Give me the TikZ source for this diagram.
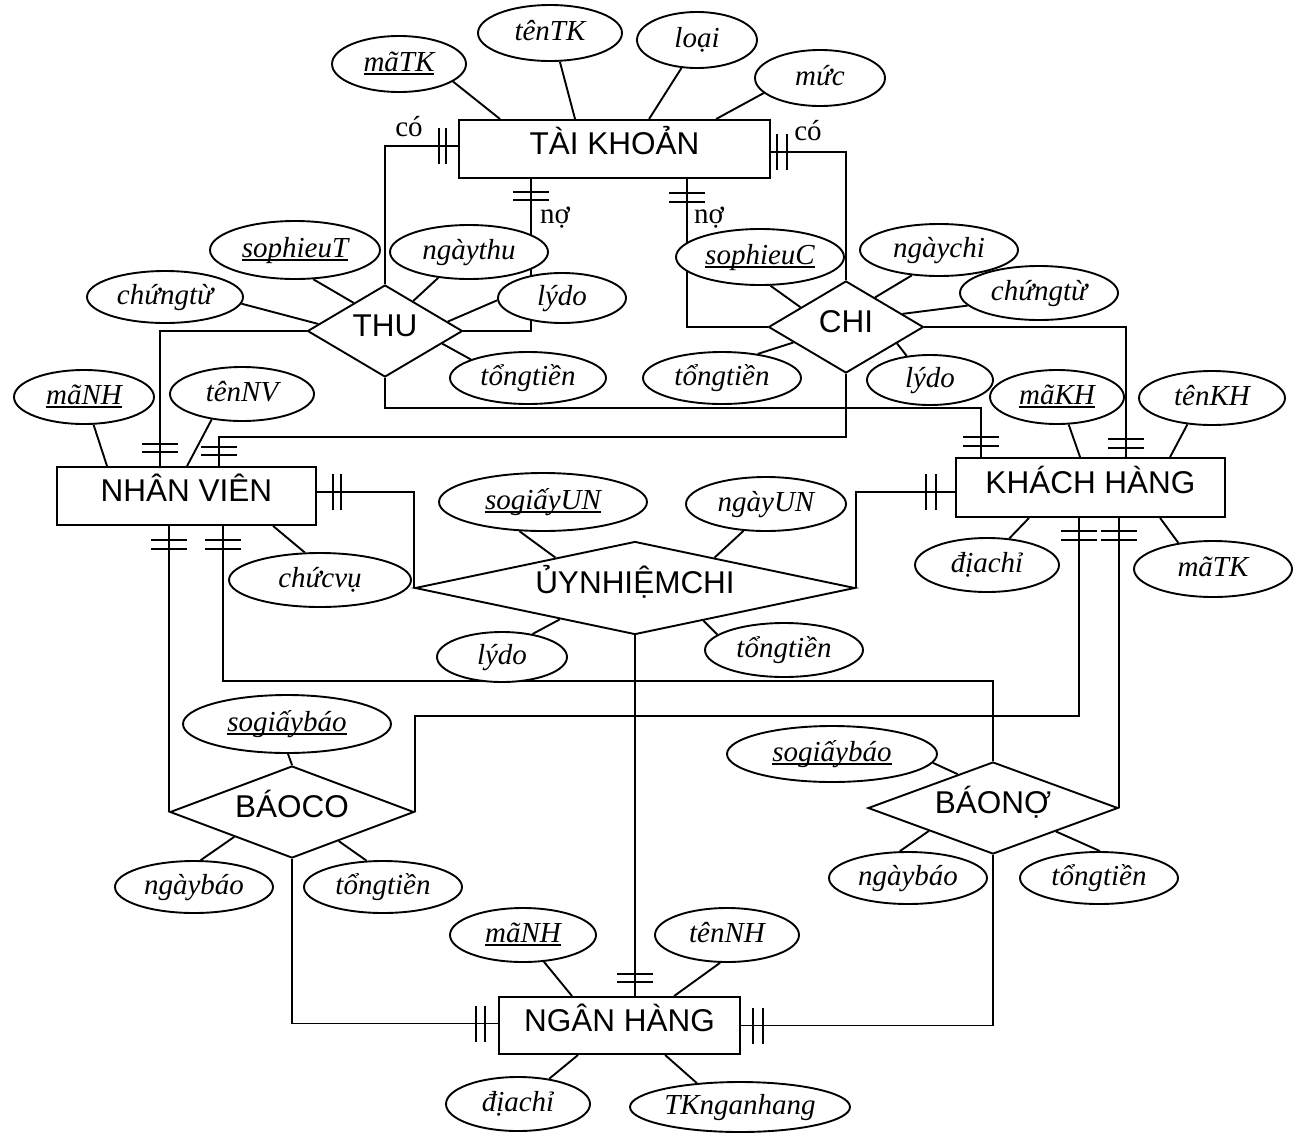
\documentclass[tikz,border=0pt]{standalone}
\usepackage{fontspec}
\setmainfont{Liberation Serif}
\newfontfamily\arialf{Liberation Sans}
\usetikzlibrary{shapes.geometric,calc}

% underlined key attribute
\newcommand{\keyul}[1]{\setbox0\hbox{#1}\rlap{\rule[-4pt]{\wd0}{1.6pt}}\box0}
% two cardinality bars across a horizontal connector (vertical bars)
\newcommand{\barsV}[3]{\draw ($(#1)+(#2,-18)$) -- ++(0,36) ($(#1)+(#3,-18)$) -- ++(0,36);}
% two cardinality bars across a vertical connector (horizontal bars)
\newcommand{\barsH}[3]{\draw ($(#1)+(-18,#2)$) -- ++(36,0) ($(#1)+(-18,#3)$) -- ++(36,0);}

\begin{document}
\begin{tikzpicture}[x=1pt,y=-1pt,line width=1.9pt,
  ent/.style={draw, rectangle, inner sep=0pt, fill=white,
    font=\arialf\fontsize{31.5}{36}\selectfont, text height=22.5pt, text depth=11pt},
  rel/.style={draw, diamond, inner sep=0pt, fill=white,
    font=\arialf\fontsize{31.5}{36}\selectfont, text height=22.5pt, text depth=11pt},
  attr/.style={draw, ellipse, inner sep=0pt, fill=white,
    font=\itshape\fontsize{29}{33}\selectfont, text height=20pt, text depth=6pt},
  card/.style={font=\fontsize{29}{33}\selectfont, inner sep=0pt},
]
\useasboundingbox (0,0) rectangle (1293,1133);
\fill[white] (0,0) rectangle (1293,1133);

% entities
\node[ent, minimum width=311pt, minimum height=58pt] (TK) at (614.5,149) {TÀI KHOẢN};
\node[ent, minimum width=259pt, minimum height=58pt] (NV) at (186.5,496) {NHÂN VIÊN};
\node[ent, minimum width=269pt, minimum height=59pt] (KH) at (1090.5,487.5) {KHÁCH HÀNG};
\node[ent, minimum width=241pt, minimum height=57pt] (NH) at (619.5,1025.5) {NGÂN HÀNG};

% relationships
\node[rel, aspect=1.68, minimum width=155pt, minimum height=92pt] (THU) at (385,331) {THU};
\node[rel, aspect=1.68, minimum width=155pt, minimum height=92pt] (CHI) at (846,327) {CHI};
\node[rel, aspect=4.73, minimum width=440pt, minimum height=93pt] (UN) at (635,588) {ỦYNHIỆMCHI};
\node[rel, aspect=2.65, minimum width=244pt, minimum height=92pt] (BC) at (292,812) {BÁOCO};
\node[rel, aspect=2.7, minimum width=250pt, minimum height=92pt] (BN) at (993,808) {BÁONỢ};

% connector ends on the entities
\coordinate (TKl) at ($(TK.west)+(0,-3)$);
\coordinate (TKr) at ($(TK.east)+(0,3)$);
\coordinate (TKb1) at ($(TK.south west)+(73,0)$);
\coordinate (TKb2) at ($(TK.south west)+(229,0)$);
\coordinate (NVt1) at ($(NV.north west)+(104,0)$);
\coordinate (NVt2) at ($(NV.north west)+(163,0)$);
\coordinate (NVr) at ($(NV.east)+(0,-4)$);
\coordinate (NVb1) at (BC.west |- NV.south);
\coordinate (NVb2) at ($(NV.south west)+(167,0)$);
\coordinate (KHt1) at ($(KH.north west)+(26,0)$);
\coordinate (KHt2) at ($(KH.north west)+(171,0)$);
\coordinate (KHl) at ($(KH.west)+(0,4.5)$);
\coordinate (KHb1) at ($(KH.south west)+(124,0)$);
\coordinate (KHb2) at (BN.east |- KH.south);
\coordinate (NHt) at (UN.south |- NH.north);
\coordinate (NHl) at ($(NH.west)+(0,-2)$);
\coordinate (NHr) at (NH.east);

% connectors
\draw (THU.north) |- (TKl);
\draw (CHI.north) |- (TKr);
\draw (THU.east) -| (TKb1);
\draw (CHI.west) -| (TKb2);
\draw (THU.west) -| (NVt1);
\draw (CHI.south) |- ($(NVt2)+(0,-29)$) -- (NVt2);
\draw (THU.south) |- ($(KHt1)+(0,-49)$) -- (KHt1);
\draw (CHI.east) -| (KHt2);
\draw (NVr) -| (UN.west);
\draw (UN.east) |- (KHl);
\draw (UN.south) -- (NHt);
\draw (NVb2) |- ($(BN.north)+(0,-80)$) -- (BN.north);
\draw (NVb1) -- (BC.west);
\draw (BC.east) |- ($(KHb1)+(0,198)$) -- (KHb1);
\draw (KHb2) -- (BN.east);
\draw (BC.south) |- (NHl);
\draw (BN.south) |- (NHr);

% cardinality bars
\barsV{TKl}{-19}{-12}
\barsV{TKr}{6}{16}
\barsH{TKb1}{13}{21}
\barsH{TKb2}{14}{23}
\barsH{NVt1}{-22}{-14}
\barsH{NVt2}{-19}{-11}
\barsH{KHt1}{-20}{-11}
\barsH{KHt2}{-18}{-9}
\barsV{NVr}{16}{24}
\barsV{KHl}{-29}{-19}
\barsH{NVb1}{14}{23}
\barsH{NVb2}{14}{23}
\barsH{KHb1}{13}{22}
\barsH{KHb2}{13}{22}
\barsH{NHt}{-22}{-14}
\barsV{NHl}{-22}{-13}
\barsV{NHr}{12}{22}

% role labels
\node[card] (coL) at (409,127) {có};
\node[card] (coR) at (808,131) {có};
\node[card] (noL) at (555,218) {nợ};
\node[card] (noR) at (709,218) {nợ};

% attributes
\node[attr, minimum width=134pt, minimum height=56pt] (mTK) at (399,64) {\keyul{mãTK}};
\node[attr, minimum width=144pt, minimum height=56pt] (tTK) at (550,33) {tênTK};
\node[attr, minimum width=120pt, minimum height=56pt] (loai) at (697,40) {loại};
\node[attr, minimum width=130pt, minimum height=56pt] (muc) at (820,78) {mức};
\node[attr, minimum width=170pt, minimum height=58pt] (spT) at (295,250) {\keyul{sophieuT}};
\node[attr, minimum width=158pt, minimum height=54pt] (ngT) at (469,252) {ngàythu};
\node[attr, minimum width=156pt, minimum height=52pt] (ctL) at (165,297) {chứngtừ};
\node[attr, minimum width=128pt, minimum height=50pt] (ldT) at (562,298) {lýdo};
\node[attr, minimum width=156pt, minimum height=52pt] (ttT) at (528,378) {tổngtiền};
\node[attr, minimum width=168pt, minimum height=56pt] (spC) at (760,257) {\keyul{sophieuC}};
\node[attr, minimum width=158pt, minimum height=52pt] (ngC) at (939,250) {ngàychi};
\node[attr, minimum width=158pt, minimum height=54pt] (ctR) at (1039,293) {chứngtừ};
\node[attr, minimum width=158pt, minimum height=52pt] (ttC) at (722,378) {tổngtiền};
\node[attr, minimum width=126pt, minimum height=50pt] (ldC) at (930,380) {lýdo};
\node[attr, minimum width=140pt, minimum height=54pt] (mNH1) at (84,397) {\keyul{mãNH}};
\node[attr, minimum width=144pt, minimum height=54pt] (tNV) at (242,394) {tênNV};
\node[attr, minimum width=182pt, minimum height=54pt] (cv) at (320,580) {chứcvụ};
\node[attr, minimum width=134pt, minimum height=54pt] (mKH) at (1057,397) {\keyul{mãKH}};
\node[attr, minimum width=146pt, minimum height=54pt] (tKH) at (1212,398) {tênKH};
\node[attr, minimum width=144pt, minimum height=54pt] (dcK) at (987,565) {địachỉ};
\node[attr, minimum width=158pt, minimum height=56pt] (mTK2) at (1213,569) {mãTK};
\node[attr, minimum width=208pt, minimum height=58pt] (sgUN) at (543,502) {\keyul{sogiấyUN}};
\node[attr, minimum width=160pt, minimum height=54pt] (ngUN) at (766,504) {ngàyUN};
\node[attr, minimum width=130pt, minimum height=50pt] (ldUN) at (502,657) {lýdo};
\node[attr, minimum width=158pt, minimum height=54pt] (ttUN) at (784,650) {tổngtiền};
\node[attr, minimum width=208pt, minimum height=58pt] (sgb1) at (287,724) {\keyul{sogiấybáo}};
\node[attr, minimum width=158pt, minimum height=52pt] (nb1) at (194,887) {ngàybáo};
\node[attr, minimum width=158pt, minimum height=52pt] (tt1) at (383,887) {tổngtiền};
\node[attr, minimum width=210pt, minimum height=56pt] (sgb2) at (832,754) {\keyul{sogiấybáo}};
\node[attr, minimum width=158pt, minimum height=52pt] (nb2) at (908,878) {ngàybáo};
\node[attr, minimum width=158pt, minimum height=52pt] (tt2) at (1099,878) {tổngtiền};
\node[attr, minimum width=146pt, minimum height=54pt] (mNH2) at (523,935) {\keyul{mãNH}};
\node[attr, minimum width=144pt, minimum height=54pt] (tNH) at (727,935) {tênNH};
\node[attr, minimum width=144pt, minimum height=54pt] (dcN) at (518,1104) {địachỉ};
\node[attr, minimum width=220pt, minimum height=50pt] (TKn) at (740,1107) {TKnganhang};

% attribute links
\draw (mTK.-18) -- ($(TK.north west)+(42,0)$);
\draw (tTK.-71) -- ($(TK.north west)+(117,0)$);
\draw (loai.-119) -- ($(TK.north west)+(191,0)$);
\draw (muc.-165) -- ($(TK.north west)+(258,0)$);
\draw (spT.-58) -- ($(THU.north)!0.4!(THU.west)$);
\draw (ctL.-5) -- ($(THU.north)!0.85!(THU.west)$);
\draw (ngT.-140) -- ($(THU.north)!0.36!(THU.east)$);
\draw (ldT.-178) -- ($(THU.north)!0.8!(THU.east)$);
\draw (ttT.162) -- ($(THU.east)!0.27!(THU.south)$);
\draw (spC.-70) -- ($(CHI.north)!0.58!(CHI.west)$);
\draw (ngC.-137) -- ($(CHI.north)!0.37!(CHI.east)$);
\draw (ctR.-170) -- ($(CHI.north)!0.72!(CHI.east)$);
\draw (ttC.34) -- ($(CHI.west)!0.33!(CHI.south)$);
\draw (ldC.134) -- ($(CHI.east)!0.35!(CHI.south)$);
\draw (mNH1.-71) -- ($(NV.north west)+(51,0)$);
\draw (tNV.-140) -- ($(NV.north west)+(131,0)$);
\draw (cv.119) -- ($(NV.south west)+(217,0)$);
\draw (mKH.-67) -- ($(KH.north west)+(125,0)$);
\draw (tKH.-133) -- ($(KH.north west)+(215,0)$);
\draw (dcK.50) -- ($(KH.south west)+(74,0)$);
\draw (mTK2.143) -- ($(KH.south west)+(205,0)$);
\draw (sgUN.-129) -- ($(UN.north)!0.36!(UN.west)$);
\draw (ngUN.-130) -- ($(UN.north)!0.36!(UN.east)$);
\draw (ldUN.37) -- ($(UN.west)!0.66!(UN.south)$);
\draw (ttUN.167) -- ($(UN.east)!0.69!(UN.south)$);
\draw (sgb1.-88) -- (BC.north);
\draw (nb1.76) -- ($(BC.west)!0.53!(BC.south)$);
\draw (tt1.122) -- ($(BC.east)!0.62!(BC.south)$);
\draw (sgb2.-5) -- ($(BN.north)!0.28!(BN.west)$);
\draw (nb2.107) -- ($(BN.west)!0.49!(BN.south)$);
\draw (tt2.88) -- ($(BN.east)!0.5!(BN.south)$);
\draw (mNH2.-52) -- ($(NH.north west)+(74,0)$);
\draw (tNH.-104) -- ($(NH.north west)+(176,0)$);
\draw (dcN.39) -- ($(NH.south west)+(80,0)$);
\draw (TKn.151) -- ($(NH.south west)+(167,0)$);
\end{tikzpicture}
\end{document}
